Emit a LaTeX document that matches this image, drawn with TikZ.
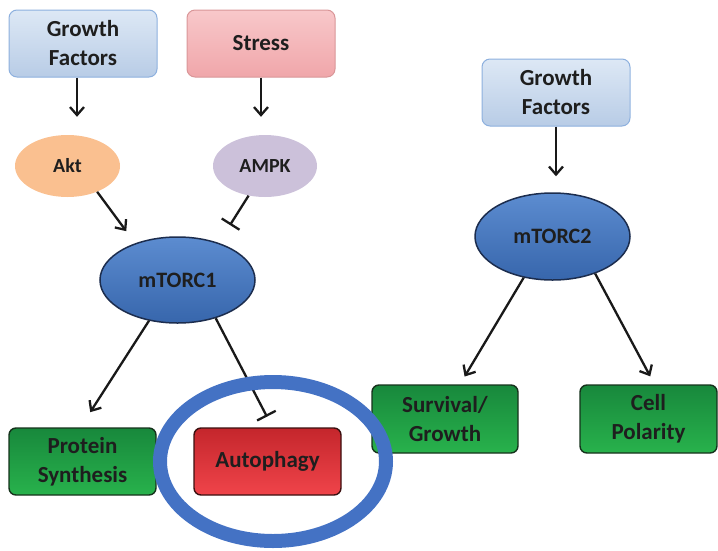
\documentclass[tikz,border=0pt]{standalone}
\usepackage{fontspec}
\setmainfont{Carlito}
\usepackage{tikz}
\definecolor{textgray}{RGB}{30, 30, 30}
\definecolor{gftop}{RGB}{221, 232, 245}
\definecolor{gfbottom}{RGB}{184, 204, 230}
\definecolor{gfborder}{RGB}{141, 176, 222}
\definecolor{stresstop}{RGB}{248, 200, 202}
\definecolor{stressbottom}{RGB}{240, 166, 170}
\definecolor{stressborder}{RGB}{217, 150, 152}
\definecolor{aktorange}{RGB}{250, 192, 144}
\definecolor{ampkpurple}{RGB}{204, 193, 218}
\definecolor{mtortop}{RGB}{92, 140, 208}
\definecolor{mtorbottom}{RGB}{55, 102, 172}
\definecolor{mtorborder}{RGB}{28, 45, 78}
\definecolor{outtop}{RGB}{24, 136, 60}
\definecolor{outbottom}{RGB}{40, 178, 76}
\definecolor{outborder}{RGB}{22, 50, 28}
\definecolor{autotop}{RGB}{196, 38, 44}
\definecolor{autobottom}{RGB}{240, 68, 74}
\definecolor{autoborder}{RGB}{59, 16, 16}
\definecolor{ringblue}{RGB}{68, 114, 196}
\usetikzlibrary{shapes, arrows.meta, positioning}

\begin{document}
\begin{tikzpicture}[
    x=1pt, y=-1pt,
    every node/.style={text=textgray, font=\fontsize{23}{29}\selectfont\bfseries, align=center},
    factor/.style={rectangle, rounded corners=8pt, draw=gfborder, line width=1pt, top color=gftop, bottom color=gfbottom, minimum width=148pt, minimum height=67pt},
    stressbox/.style={rectangle, rounded corners=8pt, draw=stressborder, line width=1pt, top color=stresstop, bottom color=stressbottom, minimum width=148pt, minimum height=67pt},
    kinase/.style={ellipse, inner sep=0pt, font=\fontsize{20}{24}\selectfont\bfseries},
    complex/.style={ellipse, inner sep=0pt, draw=mtorborder, line width=1.5pt, top color=mtortop, bottom color=mtorbottom, minimum width=155pt, minimum height=86pt, font=\fontsize{22}{26}\selectfont\bfseries},
    outcome/.style={rectangle, rounded corners=7pt, draw=outborder, line width=1.4pt, top color=outtop, bottom color=outbottom, minimum width=147pt, minimum height=67pt},
    blocked/.style={outcome, draw=autoborder, top color=autotop, bottom color=autobottom},
    act/.style={-{Straight Barb[length=8pt,width=14pt]}, line width=2.3pt, black!90},
    inhib/.style={-{Bar[width=21pt]}, line width=2.3pt, black!90},
    ring/.style={ellipse, draw=ringblue, line width=14pt, inner sep=0pt, minimum width=226pt, minimum height=159pt}
]
    \useasboundingbox (0,0) rectangle (718,550);

    % upstream signals
    \node[factor] (gf1) at (83,43.5) {Growth\\Factors};
    \node[stressbox] (stress) at (261,43.5) {Stress};
    \node[factor] (gf2) at (556,92.5) {Growth\\Factors};

    \node[kinase, fill=aktorange, minimum width=105pt, minimum height=62pt] (akt) at (67.5,166) {Akt};
    \node[kinase, fill=ampkpurple, minimum width=104pt, minimum height=62pt] (ampk) at (265,166) {AMPK};

    % complexes
    \node[complex] (m1) at (177.5,280) {mTORC1};
    \node[complex, minimum height=87pt] (m2) at (552.5,236.5) {mTORC2};

    % outputs
    \node[outcome] (ps) at (82.5,461.5) {Protein\\Synthesis};
    \node[blocked] (auto) at (267.5,461.5) {Autophagy};
    \node[outcome, minimum width=146pt, minimum height=68pt] (surv) at (445,419) {Survival/\\Growth};
    \node[outcome, minimum width=137pt, minimum height=68pt] (cell) at (648.5,419) {Cell\\Polarity};

    \draw[act, shorten >=18pt] ([xshift=-6pt]gf1.south) -- ([xshift=-6pt]gf1.south |- akt.north);
    \draw[act, shorten >=18pt] (stress.south) -- (stress.south |- ampk.north);
    \draw[act, shorten >=16pt] (gf2.south) -- (gf2.south |- m2.north);

    \draw[act, shorten >=15pt] (akt.-41) -- (m1.139);
    \draw[inhib, shorten >=21pt] (ampk.241) -- (m1.42);

    \draw[act, shorten >=18pt] (m1.235) -- ([xshift=-2pt]ps.north);
    \draw[inhib, shorten >=12pt] (m1.-45) -- ([xshift=5pt]auto.north);

    \draw[act, shorten >=9pt] (m2.235) -- ([xshift=15pt]surv.north);
    \draw[act, shorten >=9pt] (m2.-41) -- ([xshift=6pt]cell.north);

    % highlight
    \node[ring] (focus) at (273,461.5) {};
\end{tikzpicture}
\end{document}
